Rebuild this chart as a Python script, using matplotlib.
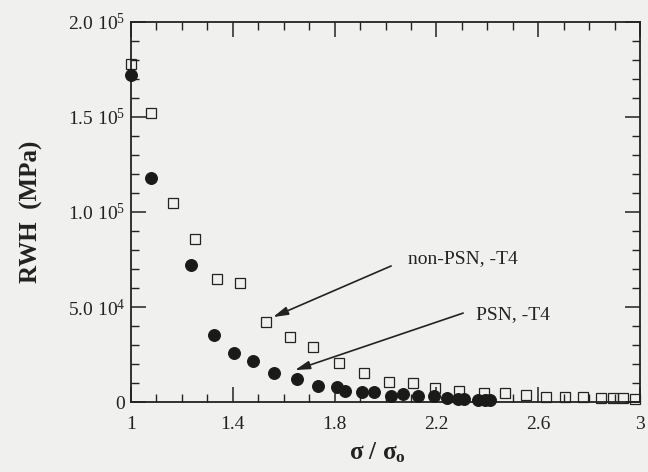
import numpy as np
import matplotlib
matplotlib.use("Agg")
import matplotlib.pyplot as plt
from matplotlib.ticker import MultipleLocator, FixedLocator

# non-PSN, -T4 (open squares)
x_non = [1.00, 1.079, 1.165, 1.251, 1.338, 1.428, 1.530, 1.625, 1.715, 1.817,
         1.916, 2.014, 2.108, 2.195, 2.289, 2.387, 2.470, 2.552, 2.631, 2.705,
         2.776, 2.847, 2.894, 2.933, 2.980]
y_non = [178e3, 152e3, 104.7e3, 85.8e3, 64.7e3, 62.6e3, 42.1e3, 34.2e3, 28.9e3, 20.5e3,
         15.3e3, 10.5e3, 10.0e3, 7.4e3, 5.8e3, 4.7e3, 4.7e3, 3.7e3, 2.6e3, 2.6e3,
         2.6e3, 2.2e3, 2.0e3, 2.0e3, 1.8e3]

# PSN, -T4 (filled circles)
x_psn = [1.00, 1.079, 1.236, 1.326, 1.405, 1.480, 1.563, 1.652, 1.736, 1.809,
         1.841, 1.907, 1.955, 2.020, 2.070, 2.126, 2.190, 2.240, 2.285, 2.310,
         2.363, 2.390, 2.410]
y_psn = [172e3, 118e3, 72.1e3, 35.3e3, 25.8e3, 21.6e3, 15.3e3, 12.1e3, 8.4e3, 7.9e3,
         5.8e3, 5.3e3, 5.3e3, 3.2e3, 4.2e3, 3.2e3, 3.2e3, 2.0e3, 1.6e3, 1.8e3,
         1.3e3, 1.1e3, 1.3e3]

xticks = [1, 1.4, 1.8, 2.2, 2.6, 3]
xtick_labels = ["1", "1.4", "1.8", "2.2", "2.6", "3"]
yticks = [0, 5e4, 1e5, 1.5e5, 2e5]
ytick_labels = ["0", "5.0 10$^4$", "1.0 10$^5$", "1.5 10$^5$", "2.0 10$^5$"]

plt.rcParams["font.family"] = ["Liberation Serif", "DejaVu Serif"]
plt.rcParams["mathtext.fontset"] = "custom"
plt.rcParams["mathtext.rm"] = "Liberation Serif"
plt.rcParams["mathtext.it"] = "Liberation Serif:italic"
plt.rcParams["mathtext.bf"] = "Liberation Serif:bold"

ink = "#222222"
bg = "#f0f0ee"
fig = plt.figure(figsize=(6.48, 4.72), dpi=100, facecolor=bg)
ax = fig.add_axes([0.2022, 0.1483, 0.7855, 0.8051], facecolor=bg)

ax.plot(x_non, y_non, ls="none", marker="s", ms=7, mfc="none", mec=ink, mew=0.9,
        clip_on=False, zorder=3)
ax.plot(x_psn, y_psn, ls="none", marker="o", ms=8.5, mfc="#1a1a1a", mec="#1a1a1a", mew=0.8,
        clip_on=False, zorder=4)

ax.set_xlim(1, 3)
ax.set_ylim(0, 2e5)
ax.xaxis.set_major_locator(FixedLocator(xticks))
ax.set_xticklabels(xtick_labels)
ax.xaxis.set_minor_locator(MultipleLocator(0.1))
ax.yaxis.set_major_locator(FixedLocator(yticks))
ax.set_yticklabels(ytick_labels)
ax.yaxis.set_minor_locator(MultipleLocator(1e4))

ax.tick_params(which="both", direction="in", top=True, right=True,
               color=ink, labelsize=14, labelcolor=ink)
ax.tick_params(which="major", length=11, width=1.1)
ax.tick_params(which="minor", length=6, width=1.0)
ax.tick_params(axis="x", pad=10)
ax.tick_params(axis="y", pad=4)
for s in ax.spines.values():
    s.set_linewidth(1.3)
    s.set_color(ink)

ax.set_ylabel("RWH  (MPa)", fontsize=18, fontweight="bold", color=ink)
ax.yaxis.set_label_coords(-0.172, 0.5)
ax.set_xlabel(r"σ / σ$_{\mathbf{o}}$", fontsize=18, fontweight="bold", color=ink)
ax.xaxis.set_label_coords(0.485, -0.1)

arrow = dict(arrowstyle="-|>,head_length=0.9,head_width=0.25", color=ink, lw=1.2,
             shrinkA=0, shrinkB=0)
ax.annotate("", xy=(1.558, 44.7e3), xytext=(2.022, 71.6e3), arrowprops=arrow)
ax.text(2.088, 75.3e3, "non-PSN, -T4", fontsize=14, va="center", ha="left", color=ink)
ax.annotate("", xy=(1.644, 16.8e3), xytext=(2.305, 46.8e3), arrowprops=arrow)
ax.text(2.356, 45.8e3, "PSN, -T4", fontsize=14, va="center", ha="left", color=ink)

fig.savefig("out.png", dpi=100, facecolor=bg)
